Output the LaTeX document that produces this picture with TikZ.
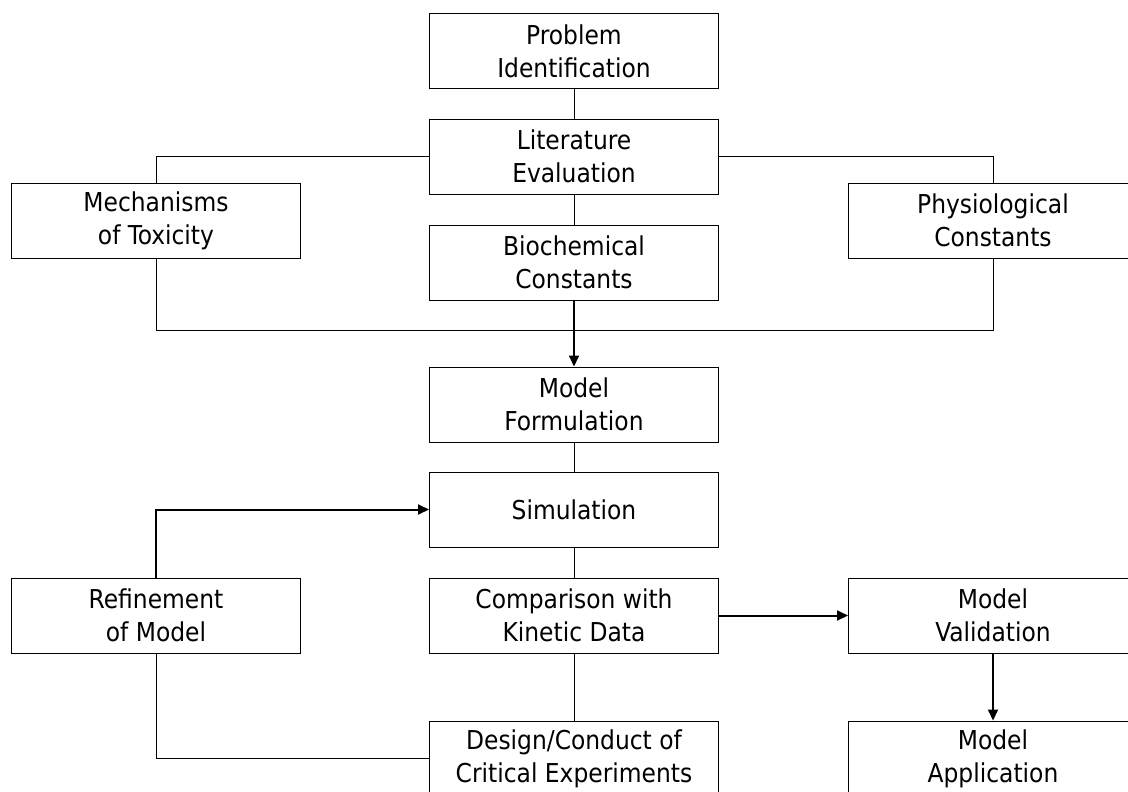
\documentclass[tikz,border=0pt]{standalone}
\usepackage{fontspec}
\setmainfont{DejaVu Sans Condensed}
\usetikzlibrary{arrows.meta}
\begin{document}
\begin{tikzpicture}
    [x=1pt, y=-1pt,
     box/.style={draw, line width=1pt, minimum width=289pt, minimum height=75pt, align=center,
                 inner sep=0pt, font=\fontsize{26}{33}\selectfont},
     link/.style={line width=1pt},
     flow/.style={line width=2pt, -{Triangle[length=11pt,width=10pt]}}]
    \useasboundingbox[clip] (0,0) rectangle (1128,792);
    \node[box] (prob)   at (574,51.5)  {Problem\\Identification};
    \node[box] (lit)    at (574,156.5) {Literature\\Evaluation};
    \node[box] (mech)   at (156,220.5) {Mechanisms\\of Toxicity};
    \node[box] (phys)   at (993,220.5) {Physiological\\Constants};
    \node[box] (bio)    at (574,262.5) {Biochemical\\Constants};
    \node[box] (form)   at (574,404.5) {Model\\Formulation};
    \node[box] (sim)    at (574,509.5) {Simulation};
    \node[box] (refine) at (156,615.5) {Refinement\\of Model};
    \node[box] (comp)   at (574,615.5) {Comparison with\\Kinetic Data};
    \node[box] (valid)  at (993,615.5) {Model\\Validation};
    \node[box] (design) at (574,758.5) {Design/Conduct of\\Critical Experiments};
    \node[box] (appl)   at (993,758.5) {Model\\Application};
    \draw[link] (prob) -- (lit) (lit) -- (bio) (form) -- (sim) (sim) -- (comp) (comp) -- (design);
    \draw[link] (lit.west) -| (mech.north) (lit.east) -| (phys.north);
    \draw[link] (mech.south) |- (574,330.5) -| (phys.south);
    \draw[flow] (bio) -- (form);
    \draw[flow] (refine.north) |- (sim.west);
    \draw[link] (refine.south) |- (design.west);
    \draw[flow] (comp) -- (valid);
    \draw[flow] (valid) -- (appl);
\end{tikzpicture}
\end{document}
